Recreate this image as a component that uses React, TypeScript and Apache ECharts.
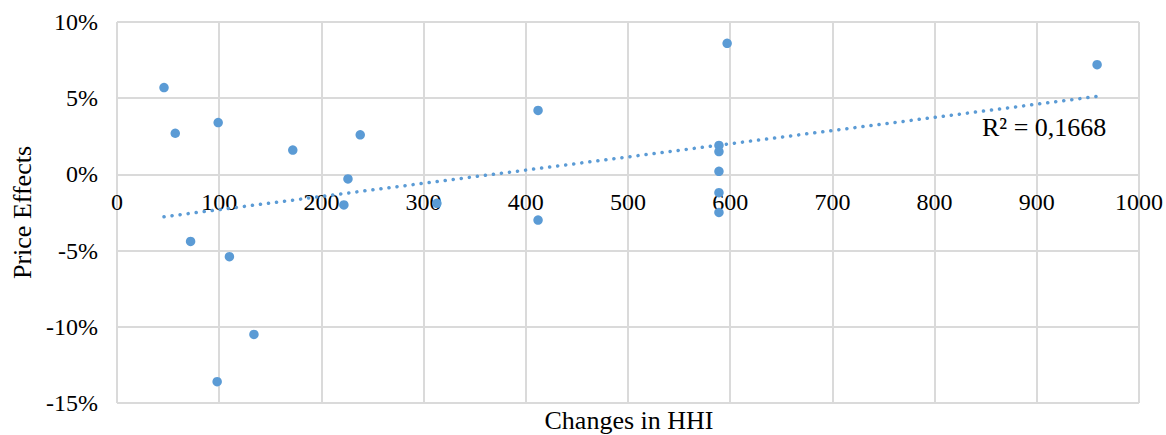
import React, { useEffect, useRef } from "react";
import * as echarts from "echarts";

const hhiChanges = [46, 57, 99, 172, 238, 226, 222, 313, 412, 412, 72, 110, 134, 98, 597, 959, 589, 589, 589, 589, 589];
const priceEffects = [5.7, 2.7, 3.4, 1.6, 2.6, -0.3, -2.0, -1.9, 4.2, -3.0, -4.4, -5.4, -10.5, -13.6, 8.6, 7.2, 1.9, 1.5, 0.2, -1.2, -2.5];
const xTicks = [0, 100, 200, 300, 400, 500, 600, 700, 800, 900, 1000];
const yTicks = [-15, -10, -5, 0, 5, 10];
const r2Label = "R² = 0,1668";
const xTitle = "Changes in HHI";
const yTitle = "Price Effects";

const FONT = "Liberation Serif";
const BLUE = "#5b9bd5";
const GRID = "#dadada";

const W = 1166;
const H = 435;
const GRID_LEFT = 117;
const GRID_RIGHT = 25;
const GRID_TOP = 22;
const GRID_BOTTOM = 32;

function regression(xs: number[], ys: number[]) {
  const n = xs.length;
  const mx = xs.reduce((a, b) => a + b, 0) / n;
  const my = ys.reduce((a, b) => a + b, 0) / n;
  let sxy = 0;
  let sxx = 0;
  for (let i = 0; i < n; i++) {
    sxy += (xs[i] - mx) * (ys[i] - my);
    sxx += (xs[i] - mx) * (xs[i] - mx);
  }
  const slope = sxy / sxx;
  const intercept = my - slope * mx;
  return { slope, intercept };
}

export default function App() {
  const ref = useRef<HTMLDivElement>(null);
  useEffect(() => {
    if (!ref.current) return;
    const chart = echarts.init(ref.current, undefined, { renderer: "svg" });
    const { slope, intercept } = regression(hhiChanges, priceEffects);
    const xMin = Math.min(...hhiChanges);
    const xMax = Math.max(...hhiChanges);
    const trend = [
      [xMin, intercept + slope * xMin],
      [xMax, intercept + slope * xMax],
    ];
    const points = hhiChanges.map((x, i) => [x, priceEffects[i]]);
    const yMin = yTicks[0];
    const yMax = yTicks[yTicks.length - 1];
    const plotH = H - GRID_TOP - GRID_BOTTOM;
    const zeroOffset = -(plotH * (0 - yMin)) / (yMax - yMin);
    chart.setOption({
      animation: false,
      backgroundColor: "#ffffff",
      grid: { left: GRID_LEFT, right: GRID_RIGHT, top: GRID_TOP, bottom: GRID_BOTTOM },
      xAxis: {
        type: "value",
        min: xTicks[0],
        max: xTicks[xTicks.length - 1],
        interval: xTicks[1] - xTicks[0],
        offset: zeroOffset,
        axisLine: { show: true, onZero: false, lineStyle: { color: GRID, width: 2 } },
        axisTick: { show: false },
        axisLabel: {
          color: "#000",
          fontFamily: FONT,
          fontSize: 24,
          margin: 16,
          showMinLabel: true,
          showMaxLabel: true,
          formatter: (v: number) => String(v),
        },
        splitLine: { show: true, lineStyle: { color: GRID, width: 2 } },
      },
      yAxis: {
        type: "value",
        min: yMin,
        max: yMax,
        interval: yTicks[1] - yTicks[0],
        name: yTitle,
        nameLocation: "middle",
        nameRotate: 90,
        nameGap: 80,
        nameTextStyle: { color: "#000", fontFamily: FONT, fontSize: 26 },
        axisLine: { show: false, onZero: false },
        axisTick: { show: false },
        axisLabel: { color: "#000", fontFamily: FONT, fontSize: 24, margin: 19, formatter: (v: number) => `${v}%` },
        splitLine: { show: true, lineStyle: { color: GRID, width: 2 } },
      },
      graphic: [
        {
          type: "text",
          x: GRID_LEFT + (W - GRID_LEFT - GRID_RIGHT) / 2,
          y: 420,
          style: { text: xTitle, fill: "#000", font: `26px '${FONT}'`, textAlign: "center", textVerticalAlign: "middle" },
        },
        {
          type: "text",
          x: 982,
          y: 127,
          z: 10,
          style: { text: r2Label, fill: "#000", font: `26px '${FONT}'`, textAlign: "left", textVerticalAlign: "middle" },
        },
      ],
      series: [
        {
          type: "line",
          data: trend,
          symbol: "none",
          z: 1,
          lineStyle: { color: BLUE, width: 3.5, type: [0.1, 8], cap: "round" },
        },
        {
          type: "scatter",
          data: points,
          symbol: "circle",
          symbolSize: 9.5,
          z: 3,
          itemStyle: { color: BLUE, opacity: 1 },
        },
      ],
    });
    return () => chart.dispose();
  }, []);
  return <div ref={ref} style={{ position: "fixed", left: 0, top: 0, width: W, height: H, background: "#fff" }} />;
}
